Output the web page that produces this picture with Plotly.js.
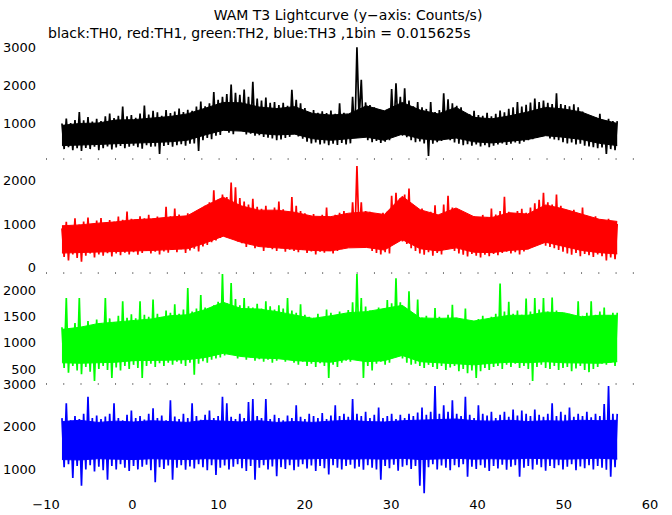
<!DOCTYPE html>
<html>
<head>
<meta charset="utf-8">
<script src="https://cdn.plot.ly/plotly-3.0.1.min.js"></script>
<style>html,body{margin:0;padding:0;background:#fff;}#chart{width:672px;height:515px;}</style>
</head>
<body>
<div id="chart"></div>
<script>
// Time span of the light curves (s)
const T_START = -8.15;
const T_END = 56.2;

// Spike extremes of each light curve (counts/s), read per ~0.5 s column
const th0Hi = [1000,1130,1010,1090,1300,1080,1170,1050,1120,1060,1190,1260,1140,1200,1440,1190,
  1220,1150,1260,1470,1230,1330,1290,1200,1350,1270,1310,1390,1300,1360,1330,1440,
  1570,1450,1530,1820,1620,1700,1770,2020,1800,1750,1890,1700,2090,1650,1600,1680,
  1540,1560,1480,1540,1460,1880,1620,1530,1400,1300,1350,1280,1320,1270,1340,1250,
  1530,1280,1230,1700,2990,2140,1550,1480,1420,1350,1330,1300,1900,2050,1700,1920,
  1600,1450,1560,1420,1380,1560,1300,1350,1790,1630,1530,1460,1420,1280,1240,1330,
  1220,1200,1280,1190,1250,1340,1290,1380,1420,1560,1440,1490,1550,1650,1560,1600,
  1540,1510,1790,1510,1480,1450,1500,1420,1310,1220,1180,1160,1250,1090,1120,1060];
const th0Lo = [330,380,300,350,280,360,330,390,300,350,400,320,370,410,350,390,
  420,380,340,430,390,400,200,410,440,390,430,460,420,470,480,280,
  560,620,590,680,700,850,760,720,880,820,710,730,680,690,650,630,
  610,560,580,620,650,880,660,600,520,480,500,450,480,430,470,440,
  490,450,480,620,1100,700,560,510,540,490,520,560,760,900,680,640,
  560,510,530,480,150,470,510,540,600,560,500,470,430,460,420,450,
  400,430,380,420,450,480,440,470,500,470,520,560,590,620,650,780,
  610,580,560,510,480,500,450,470,420,400,380,350,370,200,330,300];

const th1Hi = [900,1050,960,1130,990,1060,1150,1000,1080,1140,1020,1090,1050,1170,1100,1290,
  1120,1060,1180,1130,1210,1100,1170,1140,1400,1180,1360,1220,1170,1250,1200,1300,
  1280,1420,1500,1780,1560,1680,1620,1960,1850,1600,1520,1450,1580,1400,1350,1420,
  1300,1380,1520,1340,1290,1620,1420,1300,1250,1180,1230,1140,1210,1380,1170,1210,
  1260,1300,1220,1500,2340,1500,1300,1280,1220,1180,1260,1280,1650,1720,1600,1680,
  1820,1400,1330,1360,1240,1280,1430,1200,1450,1650,1380,1300,1160,1200,1140,1180,
  1130,1210,1160,1360,1220,1300,1630,1280,1240,1300,1350,1260,1380,1480,1560,1720,
  1500,1450,1680,1420,1300,1250,1330,1200,1380,1150,1120,1180,1100,1050,1120,1000];
const th1Lo = [240,160,300,220,130,270,320,230,300,270,330,250,320,280,340,300,
  350,290,330,380,320,360,300,370,340,400,350,420,330,390,430,370,
  480,520,580,620,680,800,720,690,600,560,470,530,440,490,380,460,
  420,380,440,360,410,380,350,410,330,370,300,360,340,390,320,380,
  420,460,490,600,700,520,450,380,330,300,350,320,560,800,600,540,
  440,380,320,290,350,270,330,300,400,450,380,320,290,250,310,270,
  230,290,260,310,280,330,360,320,350,300,370,420,480,530,560,500,
  470,440,400,360,320,290,330,260,310,280,240,300,260,160,230,190];

const th2Hi = [1300,1860,1250,1380,1860,1290,1420,1330,1450,1380,1860,1470,1400,1520,1800,1480,
  1550,1470,1800,1540,1500,1830,1560,1490,1620,1580,1740,1560,1640,2050,1600,1660,
  1920,1680,1640,1720,1790,2320,1760,2150,1840,1720,1860,1700,1680,1750,1660,1800,
  1700,1640,1720,1660,1860,1620,1580,1740,1540,1500,1480,1560,1460,1640,1580,1520,
  1600,1570,1630,1780,2320,1860,1700,1620,1580,1680,1650,1820,1760,2240,1780,1640,
  1990,1560,1830,1480,1520,1460,1670,1500,1450,1540,1730,1480,1420,1660,1400,1380,
  1460,1520,1440,1500,1560,2140,1600,1790,1560,1620,1540,1850,1600,1860,1640,1860,
  1600,1870,1620,1540,1500,1560,1480,1800,1520,1580,1800,1540,1600,1680,1530,1580];
const th2Lo = [520,430,560,470,400,540,450,270,500,560,480,330,530,470,560,500,
  580,520,330,560,600,540,610,560,620,580,640,600,560,620,390,600,
  650,620,680,700,720,760,840,780,700,740,680,720,660,690,640,680,
  620,660,700,640,680,620,580,640,560,600,540,610,560,330,580,540,
  620,660,640,700,880,330,560,470,600,640,580,620,740,820,700,620,
  580,600,560,520,580,540,500,560,480,530,560,460,500,420,470,330,
  460,520,480,540,560,500,580,540,600,520,560,500,270,540,580,520,
  500,560,480,520,540,460,510,560,480,440,500,540,600,580,620,560];

const th3Hi = [2200,2550,2150,2250,2180,2300,2700,2200,2260,2180,2240,2300,2550,2200,2150,2280,
  2380,2200,2250,2170,2300,2430,2200,2260,2150,2620,2240,2180,2300,2200,2550,2250,
  2160,2280,2380,2200,2250,2700,2550,2230,2180,2300,2200,2580,2650,2250,2200,2650,
  2180,2280,2200,2150,2260,2200,2500,2230,2180,2300,2250,2200,2320,2180,2260,2500,
  2250,2300,2230,2650,2300,2250,2350,2200,2280,2450,2200,2250,2300,2180,2280,2200,
  2300,2250,2330,2450,2280,2350,2950,2300,2500,2350,2620,2300,2250,2700,2280,2200,
  2500,2300,2260,2350,2200,2280,2350,2230,2400,2260,2380,2300,2250,2400,2280,2230,
  2300,2550,2250,2350,2280,2450,2230,2300,2250,2350,2220,2300,2250,2530,2950,2300];
const th3Lo = [1050,1120,800,1080,620,1000,1100,950,1060,980,760,1080,1000,1120,1040,960,
  1080,1000,1060,1110,980,700,1050,1010,1090,760,1040,1100,990,1070,1020,1120,
  1050,980,1100,870,1040,1090,1000,1060,1120,1030,960,1080,760,1040,1100,1000,
  1070,840,1050,1010,1100,980,1060,1120,1020,1090,960,1080,1030,880,1100,1040,
  1000,1080,1110,1020,1060,990,1100,1040,1000,760,1080,1030,1110,970,1060,1100,
  1010,1080,620,440,1050,1120,1000,1090,1040,980,1100,1050,1120,830,1060,1010,
  1100,1040,960,1080,1020,1110,990,1060,1100,830,1040,1080,1000,1110,1050,970,
  1080,1030,1100,1000,1060,1120,980,1070,1030,1100,1000,1080,1040,990,830,1050];

// Edges of the dense (solid) part of each band, read per 2 s
const th0CoreHi = [950,1000,1010,1090,1100,1140,1180,1250,1400,1550,1540,1430,1390,1440,1260,1220,
  1250,1460,1330,1550,1350,1250,1420,1160,1120,1200,1300,1420,1380,1300,1120,1000];
const th0CoreLo = [420,430,450,470,480,500,520,560,700,820,800,740,700,720,600,560,
  600,640,560,720,600,560,620,520,490,540,580,680,640,580,480,420];
const th1CoreHi = [960,980,1020,1050,1100,1120,1160,1190,1420,1620,1420,1320,1320,1270,1180,1170,
  1250,1280,1220,1640,1330,1210,1370,1170,1150,1260,1230,1440,1350,1230,1110,1060];
const th1CoreLo = [330,340,350,360,380,390,410,430,560,720,580,480,450,420,390,380,
  450,460,400,640,430,380,450,350,340,390,420,580,490,390,340,310];
const th2CoreHi = [1260,1300,1370,1400,1440,1460,1520,1540,1640,1780,1660,1650,1600,1540,1470,1520,
  1580,1600,1660,1720,1480,1470,1480,1420,1480,1530,1530,1590,1580,1500,1530,1530];
const th2CoreLo = [620,610,620,630,660,660,670,680,720,800,740,710,700,660,640,630,
  690,640,660,760,640,620,610,580,610,630,620,640,620,620,610,640];
const th3CoreHi = [2120,2150,2100,2130,2110,2140,2120,2100,2150,2130,2110,2140,2100,2120,2100,2130,
  2150,2120,2110,2140,2150,2170,2180,2140,2130,2150,2120,2140,2130,2150,2140,2150];
const th3CoreLo = [1230,1220,1250,1240,1230,1250,1240,1230,1250,1240,1260,1230,1250,1240,1250,1260,
  1240,1250,1240,1260,1230,1250,1260,1240,1250,1240,1260,1250,1240,1250,1260,1240];

const xTicks = [-10, 0, 10, 20, 30, 40, 50, 60];
const yTicksTH0 = [1000, 2000, 3000];
const yTicksTH1 = [0, 1000, 2000];
const yTicksTH2 = [500, 1000, 1500, 2000];
const yTicksTH3 = [1000, 2000, 3000];

const titleText = 'WAM T3 Lightcurve (y\u2212axis: Counts/s)';
const subtitleText = 'black:TH0, red:TH1, green:TH2, blue:TH3 ,1bin = 0.015625s';

function spread(n) {
  const xs = [];
  for (let i = 0; i < n; i++) xs.push(T_START + i * (T_END - T_START) / (n - 1));
  return xs;
}

function curve(hi, lo, coreHi, coreLo, color, yaxis) {
  const common = {type: 'scatter', mode: 'lines', xaxis: 'x', yaxis: yaxis, hoverinfo: 'skip'};
  const xc = spread(coreHi.length);
  // zig-zag between spike extremes
  const n = hi.length, step = (T_END - T_START) / n;
  const xz = [], yz = [];
  for (let i = 0; i < n; i++) {
    xz.push(T_START + i * step, T_START + (i + 0.5) * step);
    yz.push(hi[i], lo[i]);
  }
  xz.push(T_END); yz.push(hi[n - 1]);
  return [
    Object.assign({x: xc, y: coreLo, line: {color: color, width: 1}}, common),
    Object.assign({x: xc, y: coreHi, line: {color: color, width: 1}, fill: 'tonexty', fillcolor: color}, common),
    Object.assign({x: xz, y: yz, line: {color: color, width: 1.7}}, common)
  ];
}

const data = [].concat(
  curve(th0Hi, th0Lo, th0CoreHi, th0CoreLo, '#000000', 'y4'),
  curve(th1Hi, th1Lo, th1CoreHi, th1CoreLo, '#ff0000', 'y3'),
  curve(th2Hi, th2Lo, th2CoreHi, th2CoreLo, '#00ff00', 'y2'),
  curve(th3Hi, th3Lo, th3CoreHi, th3CoreLo, '#0000ff', 'y')
);

const FONT = 'DejaVu Sans, Liberation Sans, Arial, sans-serif';
function yax(domain, range, ticks) {
  return {domain: domain, range: range, tickvals: ticks, ticks: '', showgrid: false,
    zeroline: false, showline: false, anchor: 'x', ticklabelstandoff: 9,
    tickfont: {family: FONT, size: 13, color: '#000'}, fixedrange: true};
}

const bounds = [0.2478, 0.4955, 0.75];
const shapes = bounds.map(b => ({type: 'line', xref: 'x', yref: 'paper', x0: -10, x1: 60, y0: b, y1: b,
  line: {color: '#000', width: 1, dash: '1px,16.26px'}}));

const layout = {
  width: 672, height: 515,
  margin: {l: 46, r: 22, t: 47, b: 20},
  paper_bgcolor: '#fff', plot_bgcolor: '#fff',
  showlegend: false,
  font: {family: FONT, size: 13, color: '#000'},
  title: {text: titleText, font: {family: FONT, size: 14, color: '#000'},
    x: 0.5, xref: 'paper', xanchor: 'center', y: 1 - 15 / 515, yref: 'container', yanchor: 'middle'},
  annotations: [{text: subtitleText, showarrow: false, xref: 'paper', yref: 'paper',
    x: 0, xanchor: 'left', y: 1 + 14 / 448, yanchor: 'middle',
    font: {family: FONT, size: 14, color: '#000'}}],
  xaxis: {range: [-10, 60], tickvals: xTicks, ticks: '', showgrid: false, zeroline: false,
    showline: false, anchor: 'y', tickfont: {family: FONT, size: 13, color: '#000'}, fixedrange: true},
  yaxis: yax([0, bounds[0]], [400, 3000], yTicksTH3),
  yaxis2: yax([bounds[0], bounds[1]], [213, 2340], yTicksTH2),
  yaxis3: yax([bounds[1], bounds[2]], [-130, 2500], yTicksTH1),
  yaxis4: yax([bounds[2], 1], [70, 3000], yTicksTH0),
  shapes: shapes
};

Plotly.newPlot('chart', data, layout, {displayModeBar: false, staticPlot: true});
</script>
</body>
</html>
